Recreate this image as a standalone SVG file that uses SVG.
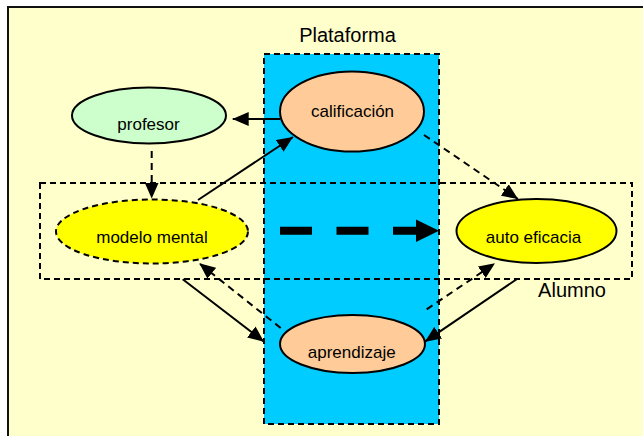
<svg xmlns="http://www.w3.org/2000/svg" width="643" height="436" viewBox="0 0 643 436">
<style>
text{font-family:"Liberation Sans",Arial,sans-serif;fill:#000;text-anchor:middle}
.lbl{font-size:17px}
.big{font-size:20px}
.node{stroke:#000;stroke-width:2}
.ln{fill:none;stroke:#000;stroke-width:2}
.dash{stroke-dasharray:7,5}
</style>
<defs>
<marker id="ah" viewBox="0 0 16 14" refX="16" refY="7" markerWidth="16" markerHeight="14" markerUnits="userSpaceOnUse" orient="auto">
<path d="M0,0 L16,7 L0,14 z" fill="#000"/>
</marker>
</defs>
<rect x="0" y="0" width="643" height="436" fill="#FFFFFF"/>
<rect x="8" y="7" width="660" height="450" fill="#FFFFCC" stroke="#111" stroke-width="2"/>
<g id="plataforma">
<rect x="264" y="54" width="175" height="370" fill="#00CCFF" stroke="#000" stroke-width="2" stroke-dasharray="6,4"/>
<text class="big" x="347.5" y="41.5">Plataforma</text>
</g>
<g id="alumno">
<rect x="40" y="183" width="592" height="96" fill="none" stroke="#000" stroke-width="2" stroke-dasharray="6,4"/>
<text class="big" x="572" y="297">Alumno</text>
</g>
<g id="profesor">
<ellipse class="node" cx="149" cy="115.5" rx="77" ry="28" fill="#CCFFCC"/>
<text class="lbl" x="148.5" y="130">profesor</text>
</g>
<g id="calificacion">
<ellipse class="node" cx="352" cy="111.5" rx="72" ry="40" fill="#FFCC99"/>
<text class="lbl" x="352.5" y="117">calificación</text>
</g>
<g id="modelo-mental">
<ellipse class="node" cx="152" cy="231.5" rx="96" ry="32" fill="#FFFF00" stroke-dasharray="6,4"/>
<text class="lbl" x="152" y="242.5">modelo mental</text>
</g>
<g id="auto-eficacia">
<ellipse class="node" cx="536.5" cy="231" rx="80" ry="32" fill="#FFFF00"/>
<text class="lbl" x="533.5" y="242.5">auto eficacia</text>
</g>
<g id="aprendizaje">
<ellipse class="node" cx="352.5" cy="344" rx="72.5" ry="29" fill="#FFCC99"/>
<text class="lbl" x="351.7" y="358">aprendizaje</text>
</g>
<g id="connectors">
<line class="ln" x1="280" y1="119" x2="232.7" y2="119" marker-end="url(#ah)"/>
<line class="ln dash" x1="151.7" y1="151" x2="151.7" y2="198.5" marker-end="url(#ah)"/>
<line class="ln" x1="198" y1="200" x2="293" y2="137" marker-end="url(#ah)"/>
<line class="ln dash" x1="424" y1="135" x2="518" y2="199" marker-end="url(#ah)"/>
<line x1="280" y1="230.7" x2="418" y2="230.7" stroke="#000" stroke-width="8" stroke-dasharray="32,24.5"/>
<path d="M416,219.5 L439,230.7 L416,242 z" fill="#000"/>
<line class="ln" x1="182.7" y1="279.3" x2="264" y2="341.7" marker-end="url(#ah)"/>
<line class="ln dash" x1="280.7" y1="328" x2="199.3" y2="263.3" marker-end="url(#ah)"/>
<line class="ln" x1="517" y1="279" x2="425" y2="341.7" marker-end="url(#ah)"/>
<line class="ln dash" x1="426.7" y1="309.3" x2="495" y2="263.3" marker-end="url(#ah)"/>
</g>
</svg>
